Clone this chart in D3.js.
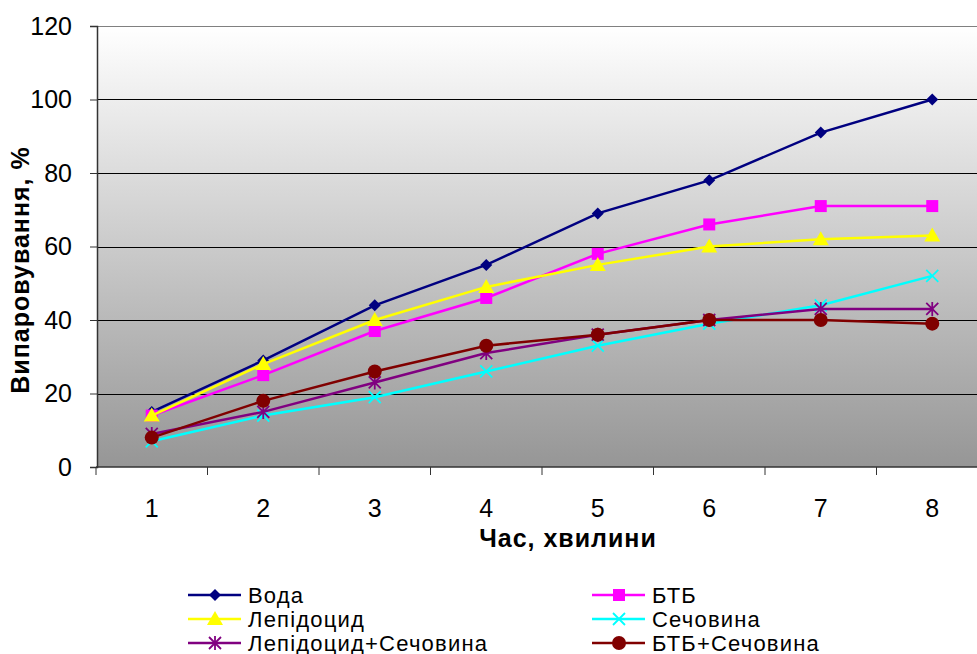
<!DOCTYPE html>
<html>
<head>
<meta charset="utf-8">
<script src="https://cdn.jsdelivr.net/npm/d3@7"></script>
<style>
  html, body { margin: 0; padding: 0; background: #fff; }
  svg { display: block; font-family: "Liberation Sans", Arial, sans-serif; }
</style>
</head>
<body>
<svg id="chart" width="977" height="654"></svg>
<script>
// Time points (minutes) and evaporation values, %
const minutes = [1, 2, 3, 4, 5, 6, 7, 8];
const voda         = [15, 29, 44, 55, 69, 78, 91, 100];
const btb          = [14, 25, 37, 46, 58, 66, 71, 71];
const lepidocyd    = [14, 28, 40, 49, 55, 60, 62, 63];
const sechovyna    = [7, 14, 19, 26, 33, 39, 44, 52];
const lepSech      = [9, 15, 23, 31, 36, 40, 43, 43];
const btbSech      = [8, 18, 26, 33, 36, 40, 40, 39];
const yTicks = [0, 20, 40, 60, 80, 100, 120];

const series = [
  { name: "Вода", values: voda, color: "#000080", marker: "diamond" },
  { name: "БТБ", values: btb, color: "#ff00ff", marker: "square" },
  { name: "Лепідоцид", values: lepidocyd, color: "#ffff00", marker: "triangle" },
  { name: "Сечовина", values: sechovyna, color: "#00ffff", marker: "cross" },
  { name: "Лепідоцид+Сечовина", values: lepSech, color: "#800080", marker: "asterisk" },
  { name: "БТБ+Сечовина", values: btbSech, color: "#800000", marker: "circle" }
];

const svg = d3.select("#chart");
const plot = { left: 97, top: 26, right: 988, bottom: 467 };

const x = d3.scaleBand().domain(minutes).range([plot.left - 1, plot.right]).paddingInner(0).paddingOuter(0);
const y = d3.scaleLinear().domain([0, 120]).range([plot.bottom, plot.top]);
const cx = d => x(d) + x.bandwidth() / 2;

// Plot background gradient
const defs = svg.append("defs");
const grad = defs.append("linearGradient").attr("id", "bg").attr("x1", 0).attr("y1", 0).attr("x2", 0).attr("y2", 1);
grad.append("stop").attr("offset", "0%").attr("stop-color", "#ffffff");
grad.append("stop").attr("offset", "100%").attr("stop-color", "#969696");

svg.append("rect")
  .attr("x", plot.left).attr("y", plot.top)
  .attr("width", plot.right - plot.left).attr("height", plot.bottom - plot.top)
  .attr("fill", "url(#bg)");

// Horizontal gridlines
svg.append("g").selectAll("line")
  .data(yTicks.filter(t => t > 0))
  .join("line")
  .attr("x1", plot.left).attr("x2", plot.right)
  .attr("y1", d => Math.round(y(d)) + 0.5).attr("y2", d => Math.round(y(d)) + 0.5)
  .attr("stroke", d => d === 120 ? "#808080" : "#000")
  .attr("stroke-width", 1);

// Y axis
const yAxis = svg.append("g")
  .attr("transform", `translate(${plot.left},0)`)
  .call(d3.axisLeft(y).tickValues(yTicks).tickSize(7).tickPadding(18));
yAxis.select(".domain").attr("stroke", "#333").attr("stroke-width", 1.5);
yAxis.selectAll(".tick line").attr("stroke", "#333");
yAxis.selectAll("text")
  .attr("font-family", "Liberation Sans, Arial, sans-serif")
  .attr("font-size", 25).attr("fill", "#000");

// X axis: ticks at category boundaries, labels at centers
const xAxisG = svg.append("g").attr("transform", `translate(0,${plot.bottom})`);
xAxisG.append("line")
  .attr("x1", plot.left - 1).attr("x2", plot.right)
  .attr("y1", 0).attr("y2", 0)
  .attr("stroke", "#333").attr("stroke-width", 1.5);
const boundaries = minutes.map(d => x(d)).concat([x(minutes[minutes.length - 1]) + x.bandwidth()]);
xAxisG.selectAll("line.tk")
  .data(boundaries)
  .join("line").attr("class", "tk")
  .attr("x1", d => d).attr("x2", d => d)
  .attr("y1", 0).attr("y2", 8)
  .attr("stroke", "#333");
xAxisG.selectAll("text")
  .data(minutes)
  .join("text")
  .attr("x", d => cx(d)).attr("y", 50)
  .attr("text-anchor", "middle")
  .attr("font-size", 25)
  .text(d => d);

// Axis titles
svg.append("text")
  .attr("x", 568).attr("y", 547)
  .attr("text-anchor", "middle")
  .attr("font-size", 25).attr("font-weight", "bold")
  .attr("letter-spacing", 1)
  .text("Час, хвилини");

svg.append("text")
  .attr("transform", "translate(29,270) rotate(-90)")
  .attr("text-anchor", "middle")
  .attr("font-size", 25).attr("font-weight", "bold")
  .attr("letter-spacing", 1)
  .text("Випаровування, %");

// Marker drawing
function drawMarker(g, type, color) {
  switch (type) {
    case "diamond":
      g.append("path").attr("d", "M0,-6L6,0L0,6L-6,0Z").attr("fill", color);
      break;
    case "square":
      g.append("rect").attr("x", -6).attr("y", -6).attr("width", 12).attr("height", 12).attr("fill", color);
      break;
    case "triangle":
      g.append("path").attr("d", "M0,-8L8,6L-8,6Z").attr("fill", color);
      break;
    case "cross":
      g.append("path").attr("d", "M-6,-6L6,6M-6,6L6,-6").attr("stroke", color).attr("stroke-width", 1.8).attr("fill", "none");
      break;
    case "asterisk":
      g.append("path").attr("d", "M-6,-6L6,6M-6,6L6,-6M0,-7L0,7").attr("stroke", color).attr("stroke-width", 1.8).attr("fill", "none");
      break;
    case "circle":
      g.append("circle").attr("r", 7).attr("fill", color);
      break;
  }
}

// Series lines and markers
const line = d3.line().x((d, i) => cx(minutes[i])).y(d => y(d));
series.forEach(s => {
  const g = svg.append("g");
  g.append("path")
    .datum(s.values)
    .attr("d", line)
    .attr("fill", "none")
    .attr("stroke", s.color)
    .attr("stroke-width", 2.5);
  s.values.forEach((v, i) => {
    const m = g.append("g").attr("transform", `translate(${cx(minutes[i])},${y(v)})`);
    drawMarker(m, s.marker, s.color);
  });
});

// Legend, two columns
const legendCols = [188, 592];
const legendRows = [595, 619, 643];
series.forEach((s, i) => {
  const lx = legendCols[i % 2], ly = legendRows[Math.floor(i / 2)];
  const g = svg.append("g").attr("transform", `translate(${lx},${ly})`);
  g.append("line").attr("x1", 0).attr("x2", 53).attr("y1", 0).attr("y2", 0)
    .attr("stroke", s.color).attr("stroke-width", 2.5);
  const m = g.append("g").attr("transform", "translate(27,0)");
  drawMarker(m, s.marker, s.color);
  g.append("text")
    .attr("x", 60).attr("y", 7.5)
    .attr("font-size", 22)
    .attr("letter-spacing", 1.2)
    .text(s.name);
});
</script>
</body>
</html>
